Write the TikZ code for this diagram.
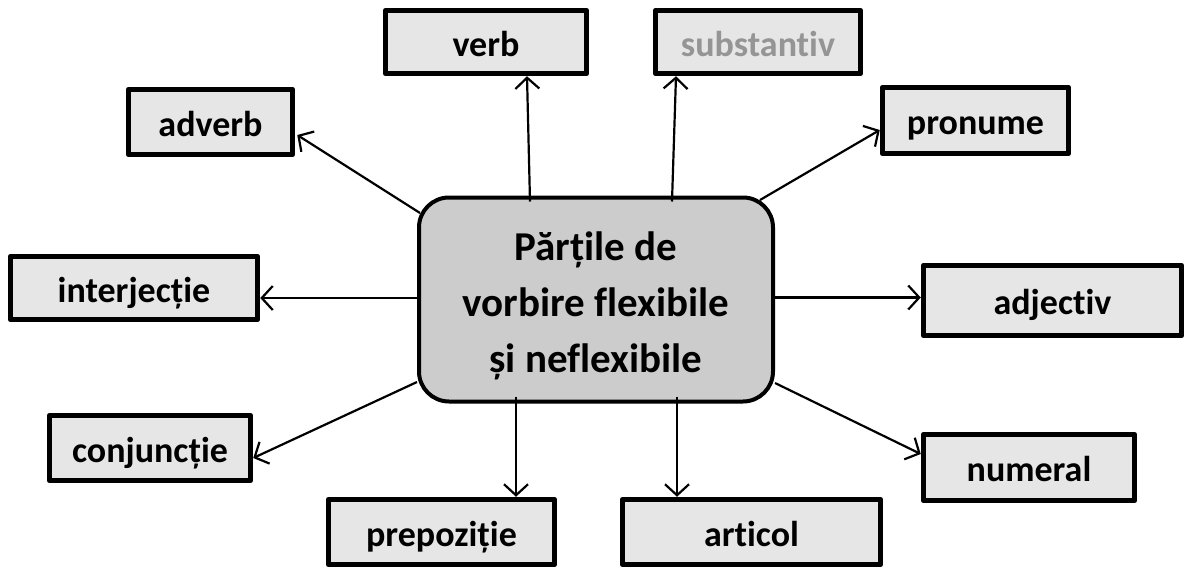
\documentclass[tikz,border=0pt]{standalone}
\usepackage{fontspec}
\setmainfont{Carlito}[Ligatures={NoCommon}]
\usetikzlibrary{arrows.meta}
\definecolor{boxfill}{HTML}{E6E6E6}
\definecolor{mainfill}{HTML}{CCCCCC}
\definecolor{greytext}{HTML}{959595}
\begin{document}
\begin{tikzpicture}[x=1pt,y=-1pt,
  wordbox/.style={draw, line width=5.5pt, fill=boxfill, line join=round,
    font=\fontsize{36}{40}\selectfont\bfseries, text height=30pt, text depth=2pt, inner sep=0pt},
  mainbox/.style={draw, line width=4pt, fill=mainfill, rounded corners=30pt, align=center,
    font=\fontsize{41}{56}\selectfont\bfseries, inner sep=0pt,
    minimum width=354pt, minimum height=204pt},
  conn/.style={line width=2.2pt, -{Straight Barb[length=11pt,width=24pt]}}]

\useasboundingbox (0,0) rectangle (1189,573);

\node[mainbox] (c) at (596,299.5) {P\u{a}r\char"021B ile de\rule{0pt}{42pt}\\vorbire flexibile\\\char"0219 i neflexibile};

\node[wordbox, minimum width=201pt, minimum height=63pt] (verb) at (486,42) {verb};
\node[wordbox, minimum width=205pt, minimum height=63pt, text=greytext] (subst) at (758,42) {substantiv};
\node[wordbox, minimum width=164pt, minimum height=65pt] (adverb) at (210.5,122) {adverb};
\node[wordbox, minimum width=186pt, minimum height=66pt] (pron) at (975.5,120.5) {pronume};
\node[wordbox, minimum width=247pt, minimum height=63pt] (interj) at (134,288) {interjec\char"021B ie};
\node[wordbox, minimum width=258pt, minimum height=70pt] (adj) at (1052.5,300.5) {adjectiv};
\node[wordbox, minimum width=201pt, minimum height=65pt] (conj) at (150,448) {conjunc\char"021B ie};
\node[wordbox, minimum width=211pt, minimum height=66pt] (num) at (1029,467.5) {numeral};
\node[wordbox, minimum width=226pt, minimum height=65pt] (prep) at (441.5,532) {prepozi\char"021B ie};
\node[wordbox, minimum width=258pt, minimum height=65pt] (art) at (751.5,532) {articol};

\draw[conn] ([xshift=-66pt,yshift=-6pt]c.north) -- ([xshift=41pt]verb.south);
\draw[conn] ([xshift=76pt,yshift=-6pt]c.north) -- ([xshift=-82pt]subst.south);
\draw[conn] ([xshift=-15pt,yshift=-4.5pt]c.north east) -- ([yshift=-9.5pt]pron.west);
\draw[conn] ([yshift=2pt]c.east) -- ([yshift=3pt]adj.west);
\draw[conn] ([yshift=20.5pt]c.south east) -- ([yshift=13.5pt]num.west);
\draw[conn] ([xshift=81pt,yshift=7pt]c.south) -- ([xshift=-74.5pt]art.north);
\draw[conn] ([xshift=-80pt,yshift=7pt]c.south) -- ([xshift=74.5pt]prep.north);
\draw[conn] ([yshift=21.5pt]c.south west) -- ([yshift=-10pt]conj.east);
\draw[conn] ([yshift=1.5pt]c.west) -- ([yshift=-10pt]interj.east);
\draw[conn] ([xshift=3pt,yshift=-17.5pt]c.north west) -- ([xshift=2pt,yshift=-13pt]adverb.east);
\end{tikzpicture}
\end{document}
